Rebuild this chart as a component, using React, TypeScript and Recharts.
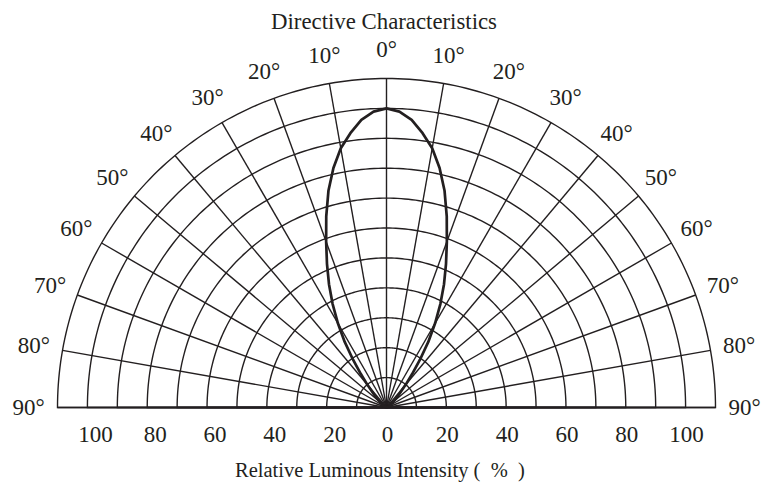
import React from 'react';
import { RadarChart, Radar, PolarGrid, PolarAngleAxis, PolarRadiusAxis } from 'recharts';

const beamAngles = [
  -90, -80, -70, -60, -50, -45, -40, -37.5, -35, -32.5, -30, -27.5, -25, -22.5, -20, -17.5, -15, -12.5, -10, -7.5, -5, -2.5,
  0, 2.5, 5, 7.5, 10, 12.5, 15, 17.5, 20, 22.5, 25, 27.5, 30, 32.5, 35, 37.5, 40, 45, 50, 60, 70, 80, 90,
];
const intensity = [
  0, 0, 0.3, 1, 3, 5.5, 10, 14, 19.5, 26, 32.5, 39, 45.5, 52, 59, 67, 75, 82, 88, 92.5, 96.5, 99,
  100, 99, 96.5, 92.5, 88, 82, 75, 67, 59, 52, 45.5, 39, 32.5, 26, 19.5, 14, 10, 5.5, 3, 1, 0.3, 0, 0,
];

const angleTicks = [-90, -80, -70, -60, -50, -40, -30, -20, -10, 0, 10, 20, 30, 40, 50, 60, 70, 80, 90];
const ringTicks = [0, 10, 20, 30, 40, 50, 60, 70, 80, 90, 100, 110];
const labelTicks = [0, 20, 40, 60, 80, 100];

const data = beamAngles.map((a, i) => ({ angle: a, value: intensity[i] }));

const INK = '#231f20';
const CX = 386.5;
const CY = 407.5;
const textStyle = { fontFamily: "'Liberation Serif', 'DejaVu Serif', serif" };

// recharts angles: 0 = 3 o'clock, counter-clockwise; the half disc runs 0..180
const ringAngles = Array.from({ length: 181 }, (_, i) => i);

const AngleTick = (props: any) => {
  const { x, y, payload } = props;
  return (
    <text x={x} y={y} dy="0.33em" textAnchor="middle" style={textStyle} fontSize={23} fill={INK}>
      {Math.abs(payload.value)}°
    </text>
  );
};

// one radius axis along the right half; its labels are mirrored onto the left half
const RadiusTick = (props: any) => {
  const { x, y, payload } = props;
  if (!labelTicks.includes(payload.value)) return <g />;
  return (
    <g>
      <text x={x + 1} y={y + 34} textAnchor="middle" style={textStyle} fontSize={23} fill={INK}>
        {payload.value}
      </text>
      {payload.value !== 0 && (
        <text x={2 * CX - x + 8} y={y + 34} textAnchor="middle" style={textStyle} fontSize={23} fill={INK}>
          {payload.value}
        </text>
      )}
    </g>
  );
};

export default function App() {
  return (
    <div style={{ position: 'absolute', left: 0, top: 0, width: 770, height: 487, background: '#fff' }}>
      <RadarChart
        width={770}
        height={487}
        data={data}
        cx={CX}
        cy={CY}
        outerRadius={329}
        startAngle={180}
        endAngle={0}
        margin={{ top: 0, right: 0, bottom: 0, left: 0 }}
      >
        <PolarGrid gridType="polygon" polarAngles={ringAngles} radialLines={false} stroke={INK} strokeWidth={1.4} />
        <PolarGrid gridType="polygon" polarRadius={[]} stroke={INK} strokeWidth={1.4} />
        <PolarAngleAxis
          dataKey="angle"
          type="number"
          domain={[-90, 90]}
          ticks={angleTicks}
          tickSize={29}
          axisLine={false}
          tickLine={false}
          tick={AngleTick}
        />
        <PolarRadiusAxis
          angle={0}
          type="number"
          domain={[0, 110]}
          ticks={ringTicks}
          tickCount={12}
          axisLine={false}
          tickLine={false}
          tick={RadiusTick}
        />
        <Radar
          dataKey="value"
          stroke={INK}
          strokeWidth={2.7}
          strokeLinejoin="round"
          fill="none"
          fillOpacity={0}
          dot={false}
          isAnimationActive={false}
        />
      </RadarChart>
      <svg width={770} height={487} style={{ position: 'absolute', left: 0, top: 0, pointerEvents: 'none' }}>
        <text x={384} y={29} textAnchor="middle" style={textStyle} fontSize={22.8} fill={INK}>
          Directive Characteristics
        </text>
        <text x={235} y={477} textAnchor="start" style={textStyle} fontSize={20.5} fill={INK}>
          {'Relative Luminous Intensity\u00a0(\u00a0\u00a0%\u00a0\u00a0)'}
        </text>
      </svg>
    </div>
  );
}
